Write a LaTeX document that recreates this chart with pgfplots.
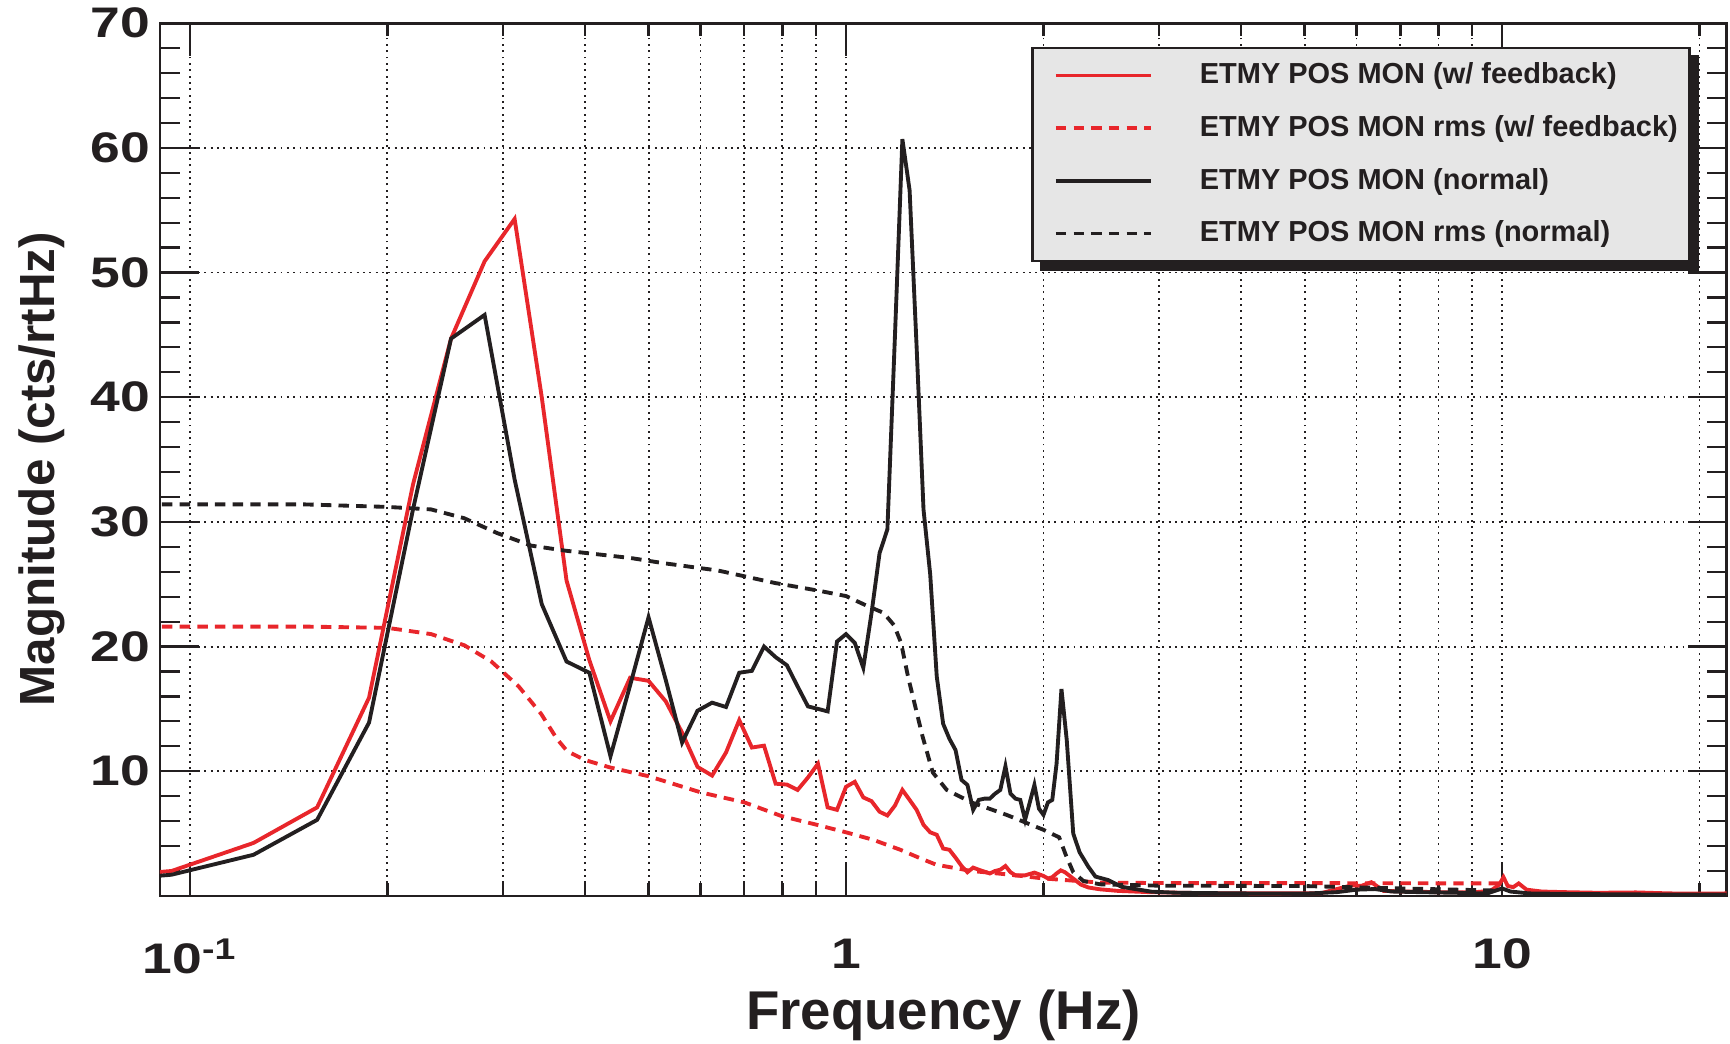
\documentclass[border=0pt]{standalone}
\usepackage{fontspec}
\setmainfont{Liberation Sans}
\usepackage{pgfplots}
\pgfplotsset{compat=1.18}
\definecolor{fbred}{HTML}{E8262B}
\definecolor{nblack}{HTML}{231F20}
\definecolor{legfill}{HTML}{E6E6E6}
\tikzset{
  rmsdash/.style={dash pattern=on 3.8pt off 2.6pt},
}
% ROOT-like wide digits
\newcommand\widedig[1]{\scalebox{1.25}[1]{#1}}
\begin{document}
\begin{tikzpicture}
\path[use as bounding box] (-58pt,-53.6pt) rectangle (569.2pt,324.8pt);
\begin{axis}[
  at={(0,0)}, anchor=south west,
  scale only axis, width=568pt, height=316.4pt,
  xmode=log, xmin=0.09, xmax=22, ymin=0, ymax=70,
  xtick={0.1,1,10},
  xticklabels={\widedig{10\textsuperscript{-1}},\widedig{1},\widedig{10}},
  minor xtick={0.2,0.3,0.4,0.5,0.6,0.7,0.8,0.9,2,3,4,5,6,7,8,9,20},
  ytick={0,10,20,30,40,50,60,70},
  yticklabels={,\widedig{10},\widedig{20},\widedig{30},\widedig{40},\widedig{50},\widedig{60},\widedig{70}},
  minor y tick num=4,
  xmajorgrids, xminorgrids, ymajorgrids,
  major grid style={nblack, line width=0.7pt, dash pattern=on 0.7pt off 1.6pt},
  minor grid style={nblack, line width=0.7pt, dash pattern=on 0.7pt off 1.6pt},
  tick align=inside,
  tick style={nblack, line width=0.8pt},
  xtick style={/pgfplots/major tick length=12pt, /pgfplots/minor tick length=4.8pt},
  ytick style={/pgfplots/major tick length=14pt, /pgfplots/minor tick length=7.2pt},
  axis line style={nblack, line width=1pt},
  xticklabel style={font=\fontsize{15.5}{16}\selectfont\bfseries, text=nblack, yshift=-12pt},
  yticklabel style={font=\fontsize{15.5}{16}\selectfont\bfseries, text=nblack},
  xlabel={Frequency (Hz)},
  xlabel style={font=\fontsize{19.8}{22}\selectfont\bfseries, text=nblack,
    at={(axis description cs:0.5,-0.153)}, anchor=base},
  ylabel={Magnitude (cts/rtHz)},
  ylabel style={font=\fontsize{17.9}{20}\selectfont\bfseries, text=nblack,
    at={(axis description cs:-0.0757,0.489)}, anchor=center},
  legend style={
    name=leg,
    at={(0.977,0.973)}, anchor=north east,
    fill=legfill, draw=nblack, line width=0.9pt,
    font=\fontsize{10.5}{12}\selectfont\bfseries, text=nblack,
    inner xsep=2.2pt, inner ysep=3.4pt, row sep=6pt,
    /tikz/every odd column/.append style={column sep=15pt},
  },
  legend cell align=left,
  legend image code/.code={\path (0pt,0pt);
    \draw[#1] (5.5pt,0pt) -- (40pt,0pt);},
]
% w/ feedback
\addplot[fbred, line width=1.4pt] coordinates {
  (0.0625,1.2) (0.09375,2.0) (0.125,4.25) (0.15625,7.1) (0.1875,15.9) (0.21875,33.0)
  (0.25,44.7) (0.28125,50.9) (0.3125,54.3) (0.34375,40.0) (0.375,25.3) (0.40625,18.9)
  (0.4375,14.0) (0.46875,17.5) (0.5,17.25) (0.53125,15.6) (0.5625,13.1) (0.59375,10.35)
  (0.625,9.65) (0.65625,11.5) (0.6875,14.1) (0.71875,11.9) (0.75,12.05) (0.78125,9.0)
  (0.8125,8.93) (0.84375,8.5) (0.875,9.5) (0.90625,10.6) (0.9375,7.1) (0.96875,6.9)
  (1.0,8.75) (1.03125,9.15) (1.0625,7.9) (1.09375,7.6) (1.125,6.75) (1.15625,6.45)
  (1.1875,7.25) (1.21875,8.5) (1.25,7.7) (1.28125,6.9) (1.3125,5.7) (1.34375,5.1)
  (1.375,4.9) (1.40625,3.8) (1.4375,3.7) (1.46875,3.07) (1.5,2.4) (1.53125,1.9)
  (1.5625,2.27) (1.59375,2.1) (1.625,1.95) (1.65625,1.8) (1.6875,2.0) (1.71875,2.1)
  (1.75,2.4) (1.78125,1.9) (1.8125,1.65) (1.875,1.65) (1.9375,1.87) (2.0,1.6)
  (2.03125,1.4) (2.0625,1.5) (2.09375,1.8) (2.125,2.05) (2.15625,1.9) (2.21875,1.4)
  (2.28125,0.9) (2.34375,0.67) (2.4375,0.53) (2.6,0.4) (2.9,0.3) (3.5,0.22)
  (4.5,0.2) (5.3,0.22) (5.6,0.55) (5.9,0.85) (6.1,0.8) (6.32,1.1) (6.5,0.65)
  (6.6,0.4) (7.2,0.35) (8,0.3) (9,0.28) (9.6,0.4) (9.9,0.9) (10.05,1.5) (10.2,0.8)
  (10.4,0.7) (10.6,1.0) (10.9,0.5) (11.5,0.35) (12.5,0.3) (14,0.25) (16,0.28)
  (18,0.2) (20,0.18) (22,0.2)
};
\addlegendentry{ETMY POS MON (w/ feedback)}
% rms w/ feedback
\addplot[fbred, line width=1.4pt, rmsdash] coordinates {
  (0.0625,21.6) (0.15,21.6) (0.2,21.5) (0.233,21.0) (0.262,20.1) (0.288,18.8)
  (0.317,16.8) (0.343,14.6) (0.3625,12.6) (0.376,11.6) (0.40,10.9) (0.437,10.3)
  (0.50,9.6) (0.601,8.3) (0.70,7.5) (0.798,6.4) (0.903,5.7) (1.0,5.1) (1.1,4.5)
  (1.21,3.7) (1.3,3.0) (1.373,2.5) (1.553,2.0) (1.757,1.73) (2.0,1.4) (2.25,1.2)
  (2.44,1.07) (3,1.03) (6,1.02) (10,1.0)
};
\addlegendentry{ETMY POS MON rms (w/ feedback)}
% normal
\addplot[nblack, line width=1.4pt] coordinates {
  (0.0625,0.9) (0.09375,1.7) (0.125,3.3) (0.15625,6.1) (0.1875,13.9) (0.21875,31.0)
  (0.25,44.7) (0.28125,46.6) (0.3125,33.4) (0.34375,23.4) (0.375,18.8) (0.40625,17.9)
  (0.4375,11.2) (0.46875,16.9) (0.5,22.35) (0.53125,17.3) (0.5625,12.3) (0.59375,14.85)
  (0.625,15.5) (0.65625,15.15) (0.6875,17.9) (0.71875,18.05) (0.75,20.0) (0.78125,19.15)
  (0.8125,18.5) (0.84375,16.8) (0.875,15.2) (0.90625,15.0) (0.9375,14.8) (0.96875,20.4)
  (1.0,21.0) (1.03125,20.3) (1.0625,18.3) (1.09375,22.7) (1.125,27.5) (1.15625,29.4)
  (1.1875,45.0) (1.21875,60.7) (1.25,56.6) (1.28125,44.0) (1.3125,31.0) (1.34375,25.8)
  (1.375,17.6) (1.40625,13.8) (1.4375,12.6) (1.46875,11.7) (1.5,9.3) (1.53125,8.9)
  (1.5625,6.9) (1.59375,7.7) (1.625,7.8) (1.65625,7.8) (1.6875,8.2) (1.71875,8.5)
  (1.75,10.4) (1.78125,8.2) (1.8125,7.8) (1.84375,7.7) (1.875,6.1) (1.90625,7.5)
  (1.9375,8.9) (1.96875,7.0) (2.0,6.5) (2.03125,7.5) (2.0625,7.7) (2.09375,10.6)
  (2.13,16.6) (2.17,12.5) (2.22,5.0) (2.27,3.5) (2.34,2.35) (2.40,1.55) (2.51,1.27)
  (2.63,0.73) (2.92,0.34) (3.2,0.25) (4,0.2) (5,0.18) (5.6,0.3) (6,0.5) (6.4,0.55)
  (6.8,0.35) (7.5,0.3) (8.5,0.25) (9.5,0.2) (10,0.6) (10.3,0.35) (11,0.2) (13,0.15)
  (16,0.12) (19,0.1) (22,0.1)
};
\addlegendentry{ETMY POS MON (normal)}
% rms normal
\addplot[nblack, line width=1.4pt, rmsdash] coordinates {
  (0.0625,31.4) (0.15,31.4) (0.2,31.2) (0.233,31.0) (0.2616,30.3) (0.294,29.1)
  (0.331,28.1) (0.372,27.7) (0.47,27.1) (0.525,26.7) (0.638,26.1) (0.779,25.1)
  (0.904,24.5) (1.0,24.05) (1.073,23.3) (1.141,22.7) (1.184,21.7) (1.213,20.3)
  (1.243,17.6) (1.275,15.2) (1.308,12.8) (1.356,9.9) (1.424,8.5) (1.553,7.5)
  (1.757,6.5) (2.0,5.3) (2.113,4.7) (2.166,3.2) (2.22,1.9) (2.3,1.2) (2.44,0.93)
  (3,0.82) (5,0.79) (7,0.6) (10,0.42)
};
\addlegendentry{ETMY POS MON rms (normal)}
\end{axis}
% legend drop shadow (right and bottom bars)
\fill[nblack] ([yshift=-3pt]leg.north east) rectangle ([xshift=3pt,yshift=-3pt]leg.south east);
\fill[nblack] ([xshift=3pt,yshift=-3pt]leg.south west) rectangle ([xshift=3pt]leg.south east);
\end{tikzpicture}
\end{document}
